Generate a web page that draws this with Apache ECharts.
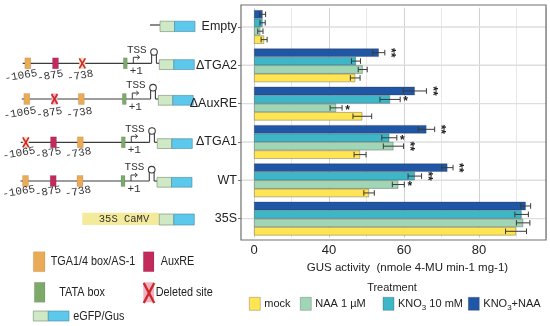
<!DOCTYPE html>
<html><head><meta charset="utf-8">
<script src="https://cdn.jsdelivr.net/npm/echarts@6/dist/echarts.min.js"></script>
<style>html,body{margin:0;padding:0;background:#fff}#c{width:550px;height:326px}</style>
</head><body><div id="c"></div>
<script>
// ---------------- DATA ----------------
const categories = ['Empty', 'ΔTGA2', 'ΔAuxRE', 'ΔTGA1', 'WT', '35S'];
const treatments = ['mock', 'NAA 1 µM', 'KNO3 10 mM', 'KNO3+NAA'];
const mock       = [22.7, 47.0, 48.9, 48.3, 50.7, 89.9];
const naa        = [21.7, 49.0, 41.9, 57.2, 58.5, 91.8];
const kno3       = [22.3, 47.2, 56.3, 56.1, 62.9, 91.4];
const kno3naa    = [22.3, 53.3, 62.9, 66.0, 71.6, 92.5];
const mockErr    = [0.8, 1.3, 2.5, 1.6, 1.4, 2.8];
const naaErr     = [0.7, 1.2, 1.6, 2.7, 1.6, 1.8];
const kno3Err    = [0.7, 1.2, 2.7, 2.0, 1.8, 1.8];
const kno3naaErr = [0.8, 1.6, 3.1, 2.2, 1.5, 1.3];
const mockSig    = ['', '', '', '', '', ''];
const naaSig     = ['', '', '*', '**', '*', ''];
const kno3Sig    = ['', '', '*', '*', '**', ''];
const kno3naaSig = ['', '**', '**', '**', '**', ''];
const xTickLabels = {20: '0', 40: '40', 60: '60', 80: '80'};
const xAxisTitle = 'GUS activity  (nmole 4-MU min-1 mg-1)';
const legendTitle = 'Treatment';

// ---------------- STYLE ----------------
const colors = {'mock': '#FFE453', 'NAA 1 µM': '#A0D6B6', 'KNO3 10 mM': '#3DB7C8', 'KNO3+NAA': '#1F56A6'};
const FONT = 'Liberation Sans';
const MONO = 'Liberation Mono';
const BAR_FRAC = 0.22;

// top-to-bottom order within a category
const stackOrder = [
  {name: 'KNO3+NAA', v: kno3naa, e: kno3naaErr, s: kno3naaSig},
  {name: 'KNO3 10 mM', v: kno3, e: kno3Err, s: kno3Sig},
  {name: 'NAA 1 µM', v: naa, e: naaErr, s: naaSig},
  {name: 'mock', v: mock, e: mockErr, s: mockSig}
];

const series = [];
// category-centre grid lines (ggplot style)
series.push({
  type: 'custom', z: 1, silent: true,
  data: categories.map((c, i) => [20, i]),
  renderItem: function (params, api) {
    const y = api.coord([20, api.value(1)])[1];
    const cs = params.coordSys;
    return {type: 'line', shape: {x1: cs.x - 13, y1: y, x2: cs.x + cs.width, y2: y},
      style: {stroke: '#dedede', lineWidth: 1.4}};
  }
});
stackOrder.forEach(function (t) {
  series.push({
    type: 'bar', name: t.name, data: t.v, barWidth: (BAR_FRAC * 100) + '%', barGap: '0%',
    itemStyle: {color: colors[t.name], borderColor: 'rgba(50,50,50,0.55)', borderWidth: 0.6},
    z: 2
  });
});
stackOrder.forEach(function (t, k) {
  series.push({
    type: 'custom', z: 3, silent: true,
    data: t.v.map((v, i) => [v, i, t.e[i]]),
    renderItem: function (params, api) {
      const v = api.value(0), i = api.value(1), e = api.value(2);
      const band = api.size([0, 1])[1];
      const bw = band * BAR_FRAC;
      const y = api.coord([v, i])[1] + (k - 1.5) * bw;
      const xl = api.coord([v - e, i])[0], xr = api.coord([v + e, i])[0];
      const ch = 2.8;
      const st = {stroke: '#3a3a3a', lineWidth: 1};
      const ch1 = [
        {type: 'line', shape: {x1: xl, y1: y, x2: xr, y2: y}, style: st},
        {type: 'line', shape: {x1: xl, y1: y - ch, x2: xl, y2: y + ch}, style: st},
        {type: 'line', shape: {x1: xr, y1: y - ch, x2: xr, y2: y + ch}, style: st}
      ];
      const s = t.s[params.dataIndex];
      if (s) {
        ch1.push({type: 'text', x: xr + 5.5, y: y + (s.length > 1 ? 0 : 2.5),
          rotation: s.length > 1 ? -Math.PI / 2 : 0,
          style: {text: s, fontSize: 12, fontWeight: 'bold', fontFamily: FONT, fill: '#222',
            align: 'center', verticalAlign: 'middle'}});
      }
      return {type: 'group', children: ch1};
    }
  });
});

// ---------------- LEFT DIAGRAM (decoration) ----------------
const C = {line: '#3c3c3c', tga: '#EBAA55', aux: '#C22A5C', tata: '#7DAA6A', gfp: '#CFE8C6',
  gus: '#5CC8EC', y35: '#F4EA9C', delTga: '#F7DDBD', delAux: '#EDB3C0', x: '#D0262C'};
const G = [];
function rect(x, y, w, h, fill, stroke, lw) {
  G.push({type: 'rect', shape: {x: x, y: y, width: w, height: h},
    style: {fill: fill, stroke: stroke || 'rgba(0,0,0,0.3)', lineWidth: lw == null ? 0.6 : lw}});
}
function ln(x1, y1, x2, y2, w, col) {
  G.push({type: 'line', shape: {x1: x1, y1: y1, x2: x2, y2: y2}, style: {stroke: col || C.line, lineWidth: w || 1.2}});
}
function txt(x, y, t, o) {
  o = o || {};
  G.push({type: 'text', x: x, y: y, rotation: o.rot || 0, scaleX: o.sx || 1,
    style: {text: t, fontSize: o.fs || 12, fontFamily: o.ff || FONT, fill: o.fill || '#222',
      align: o.align || 'left', verticalAlign: 'middle'}});
}
function cross(cx, cy, w, h, lw) {
  ln(cx - w / 2, cy - h / 2, cx + w / 2, cy + h / 2, lw || 1.6, C.x);
  ln(cx + w / 2, cy - h / 2, cx - w / 2, cy + h / 2, lw || 1.6, C.x);
}
function reporter(x, yTop, h) {
  rect(x, yTop, 14.5, h, C.gfp, '#6f8a6a');
  rect(x + 14.5, yTop, 20.5, h, C.gus, '#4b8aa3');
}
const siteX = [27.8, 55.5, 82.3];
const siteType = ['tga', 'aux', 'tga'];
const siteLab = ['-1065', '-875', '-738'];
const siteLabX = [21, 50.3, 80.3];
const rows = [
  {y: 63.3, dx: 0, del: 2, lo: 12.5},
  {y: 99, dx: -1, del: 1, lo: 14},
  {y: 142.3, dx: -2, del: 0, lo: 11},
  {y: 181, dx: -2.3, del: -1, lo: 10.7}
];
rows.forEach(function (r) {
  const y = r.y, d = r.dx;
  ln(22.7 + d, y, 151.6 + d, y);
  ln(156.4 + d, y, 159.3 + d, y);
  siteX.forEach(function (sx, j) {
    const cx = sx + d;
    if (j === r.del) {
      rect(cx - 3, y - 5.5, 6, 11, siteType[j] === 'tga' ? C.delTga : C.delAux, 'none', 0);
      cross(cx, y, 6, 10, 1.6);
    } else {
      rect(cx - 3, y - 5.5, 6, 11, C[siteType[j]], 'rgba(0,0,0,0.15)');
    }
    txt(siteLabX[j] + d, y + r.lo, siteLab[j], {ff: MONO, fs: 11, align: 'center', rot: 0.17, fill: '#333'});
  });
  rect(123.3 + d, y - 5.5, 4, 11, C.tata, 'rgba(0,0,0,0.15)');
  ln(133.3 + d, y, 133.3 + d, y - 6, 1);
  ln(133.3 + d, y - 6, 139.5 + d, y - 6, 1);
  ln(137.3 + d, y - 8, 139.6 + d, y - 6, 1);
  ln(137.3 + d, y - 4, 139.6 + d, y - 6, 1);
  txt(136.8 + d, y - 13.5, 'TSS', {ff: MONO, fs: 11, align: 'center', fill: '#333'});
  txt(136.3 + d, y + 7.6, '+1', {ff: MONO, fs: 11, align: 'center', fill: '#333'});
  ln(151.6 + d, y, 151.6 + d, y - 8.6, 1.1);
  ln(156.4 + d, y, 156.4 + d, y - 8.6, 1.1);
  G.push({type: 'circle', shape: {cx: 154 + d, cy: y - 11.3, r: 3.3}, style: {fill: 'none', stroke: C.line, lineWidth: 1.1}});
  reporter(159.3 + d, y - 3.6, 9.8);
});
// Empty construct
ln(150, 25, 160, 25);
reporter(160, 21.2, 10.4);
// 35S construct
rect(82.3, 212.7, 77, 12.3, C.y35, 'none', 0);
txt(124, 218.9, '35S CaMV', {ff: MONO, fs: 10.5, align: 'center', fill: '#333'});
reporter(159.3, 214, 11);
// diagram legend
rect(33.3, 251.7, 11.7, 20, C.tga, 'rgba(0,0,0,0.15)');
txt(50.7, 261.8, 'TGA1/4 box/AS-1', {sx: 0.9});
rect(143.3, 251.7, 10.7, 20, C.aux, 'rgba(0,0,0,0.15)');
txt(160.7, 261.8, 'AuxRE', {sx: 0.9});
rect(34.3, 282.3, 10.7, 20, C.tata, 'rgba(0,0,0,0.15)');
txt(59.3, 292.4, 'TATA box', {sx: 0.9});
rect(143.3, 282.3, 10.7, 20, C.delAux, 'none', 0);
cross(149, 293, 10.5, 20, 2.4);
txt(155.7, 292.4, 'Deleted site', {sx: 0.9});
rect(33.3, 311, 15, 10, C.gfp, '#6f8a6a');
rect(48.3, 311, 20.7, 10, C.gus, '#4b8aa3');
txt(73.3, 316.5, 'eGFP/Gus', {sx: 0.9});
// plot frame and legend title
G.push({type: 'rect', z: 100, shape: {x: 241, y: 5, width: 305, height: 235},
  style: {fill: 'none', stroke: '#707070', lineWidth: 1.2}});
txt(392, 288, legendTitle, {fs: 11, align: 'center'});

// ---------------- LEGENDS ----------------
const legendLeft = [249, 300, 382.7, 468];
const legends = treatments.map(function (t, j) {
  return {
    data: [t], left: legendLeft[j], top: 297, padding: 0, itemGap: 0,
    itemWidth: 11, itemHeight: 13, icon: 'rect', selectedMode: false, itemStyle: {borderColor: 'rgba(50,50,50,0.45)', borderWidth: 0.6},
    formatter: function (name) {
      if (name.indexOf('KNO3') === 0) return '{n|KNO}{s|3}{n|' + name.slice(4) + '}';
      return name;
    },
    textStyle: {fontSize: 11, fontFamily: FONT, color: '#222', padding: [0, 0, 0, -1],
      rich: {n: {fontSize: 11, fontFamily: FONT, color: '#222'},
             s: {fontSize: 8, fontFamily: FONT, color: '#222', padding: [7, 0, 0, 0]}}}
  };
});

const chart = echarts.init(document.getElementById('c'), null, {renderer: 'canvas'});
chart.setOption({
  animation: false,
  textStyle: {fontFamily: FONT},
  grid: {left: 254, right: 4, top: 7.8, bottom: 88.2, containLabel: false},
  xAxis: {
    type: 'value', min: 20, max: 97.9, interval: 10, startValue: 20,
    axisLine: {show: false}, axisTick: {show: false},
    axisLabel: {margin: 6, fontSize: 13, color: '#222', fontFamily: FONT,
      formatter: function (v) { return xTickLabels[v] || ''; }},
    splitLine: {show: true, lineStyle: {color: ['#d2d2d2', '#e8e8e8'], width: 1}},
    name: xAxisTitle, nameLocation: 'middle', nameGap: 20,
    nameTextStyle: {fontSize: 11.5, color: '#222', fontFamily: FONT, padding: [0, 0, 0, 15]}
  },
  yAxis: {
    type: 'category', data: categories, inverse: true, offset: 13,
    axisLine: {show: false},
    axisTick: {show: true, alignWithLabel: true, length: 3, lineStyle: {color: '#777'}},
    axisLabel: {margin: 4, fontSize: 12.5, color: '#222', fontFamily: FONT},
    splitLine: {show: false}
  },
  legend: legends,
  series: series,
  graphic: G
});
</script></body></html>
